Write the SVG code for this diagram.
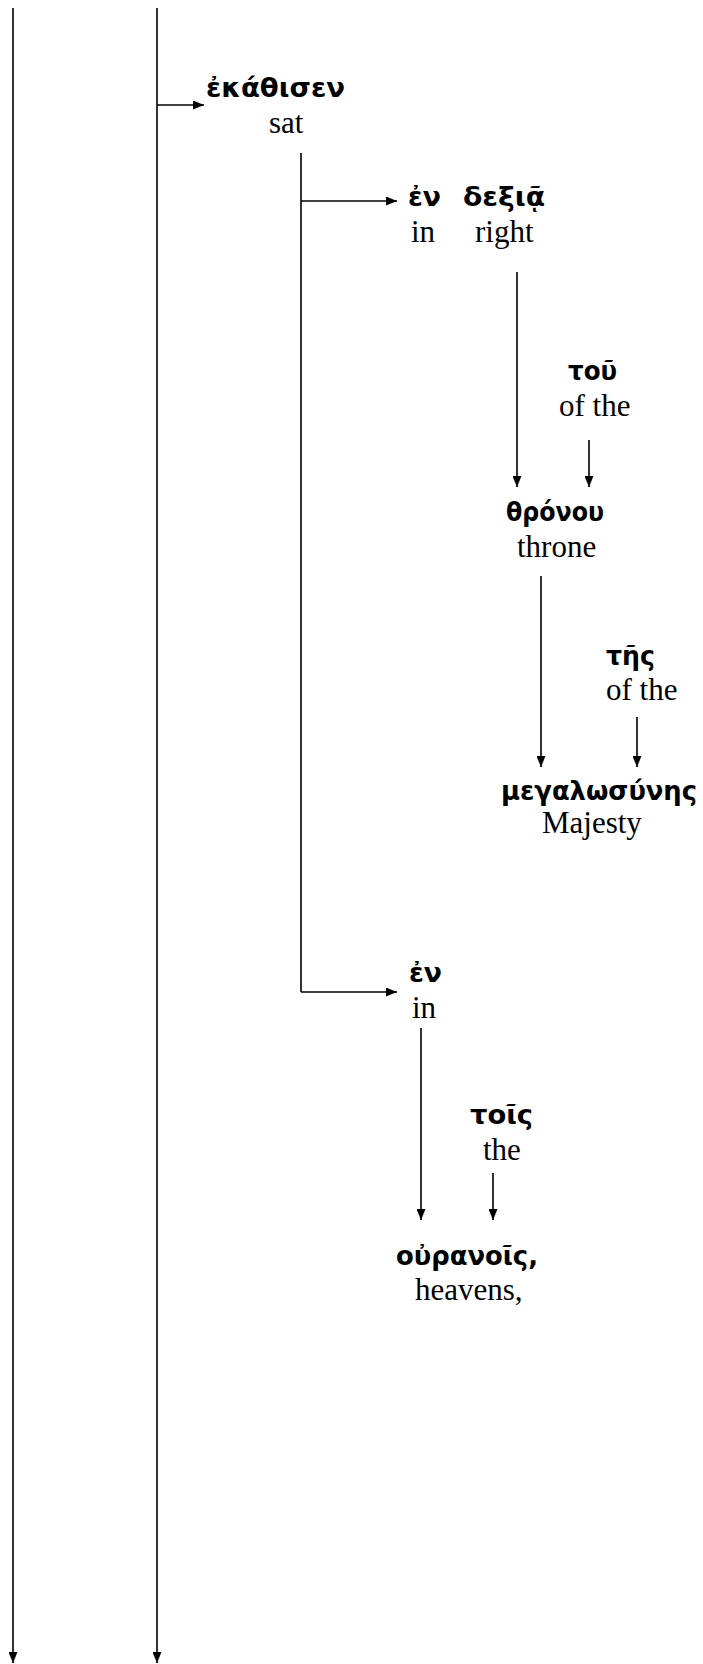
<svg xmlns="http://www.w3.org/2000/svg" width="703" height="1664" viewBox="0 0 703 1664">
<style>
.gk{font-family:"DejaVu Sans","Noto Sans",sans-serif;font-weight:bold;font-size:27px;fill:#000}
.en{font-family:"Liberation Serif","Times New Roman",serif;font-size:31px;fill:#000}
.ln{stroke:#000;stroke-width:1.6;fill:none}
</style>
<defs>
<marker id="ah" markerUnits="userSpaceOnUse" markerWidth="11" markerHeight="9" refX="11" refY="4.5" orient="auto">
<path d="M0,0 L11,4.5 L0,9 z" fill="#000"/>
</marker>
</defs>
<g id="connectors">
<line class="ln" x1="13" y1="8" x2="13" y2="1663" marker-end="url(#ah)"/>
<line class="ln" x1="157" y1="8" x2="157" y2="1663" marker-end="url(#ah)"/>
<line class="ln" x1="157" y1="105" x2="204" y2="105" marker-end="url(#ah)"/>
<line class="ln" x1="301" y1="153" x2="301" y2="992"/>
<line class="ln" x1="301" y1="201" x2="397" y2="201" marker-end="url(#ah)"/>
<line class="ln" x1="301" y1="992" x2="397" y2="992" marker-end="url(#ah)"/>
<line class="ln" x1="517" y1="272" x2="517" y2="487" marker-end="url(#ah)"/>
<line class="ln" x1="589" y1="440" x2="589" y2="487" marker-end="url(#ah)"/>
<line class="ln" x1="541" y1="576" x2="541" y2="767" marker-end="url(#ah)"/>
<line class="ln" x1="637" y1="717" x2="637" y2="767" marker-end="url(#ah)"/>
<line class="ln" x1="421" y1="1028" x2="421" y2="1220" marker-end="url(#ah)"/>
<line class="ln" x1="493" y1="1173" x2="493" y2="1220" marker-end="url(#ah)"/>
</g>
<g id="n-ekathisen"><text class="gk" x="206" y="97" textLength="139" lengthAdjust="spacingAndGlyphs">ἐκάθισεν</text><text class="en" x="269" y="133">sat</text></g>
<g id="n-en1"><text class="gk" x="408" y="206" textLength="33" lengthAdjust="spacingAndGlyphs">ἐν</text><text class="en" x="411" y="242">in</text></g>
<g id="n-dexia"><text class="gk" x="463" y="206" textLength="82" lengthAdjust="spacingAndGlyphs">δεξιᾷ</text><text class="en" x="475" y="242">right</text></g>
<g id="n-tou"><text class="gk" x="568" y="380" textLength="49" lengthAdjust="spacingAndGlyphs">τοῦ</text><text class="en" x="559" y="416">of the</text></g>
<g id="n-thronou"><text class="gk" x="506" y="521" textLength="98" lengthAdjust="spacingAndGlyphs">θρόνου</text><text class="en" x="517" y="557">throne</text></g>
<g id="n-tes"><text class="gk" x="606" y="665" textLength="49" lengthAdjust="spacingAndGlyphs">τῆς</text><text class="en" x="606" y="700">of the</text></g>
<g id="n-megalosynes"><text class="gk" x="501" y="800" textLength="196" lengthAdjust="spacingAndGlyphs">μεγαλωσύνης</text><text class="en" x="542" y="833">Majesty</text></g>
<g id="n-en2"><text class="gk" x="409" y="982" textLength="33" lengthAdjust="spacingAndGlyphs">ἐν</text><text class="en" x="412" y="1018">in</text></g>
<g id="n-tois"><text class="gk" x="470" y="1124" textLength="63" lengthAdjust="spacingAndGlyphs">τοῖς</text><text class="en" x="483" y="1160">the</text></g>
<g id="n-ouranois"><text class="gk" x="396" y="1265" textLength="142" lengthAdjust="spacingAndGlyphs">οὐρανοῖς,</text><text class="en" x="415" y="1300">heavens,</text></g>
</svg>
